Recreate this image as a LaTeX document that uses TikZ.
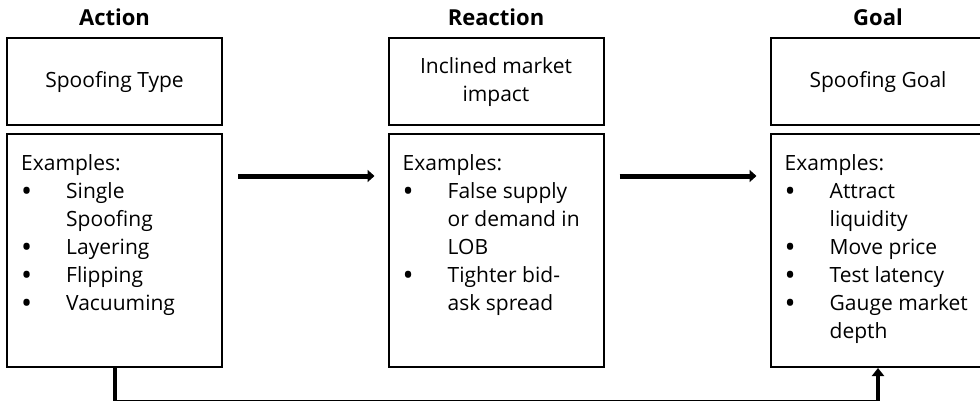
\documentclass[tikz,border=0pt]{standalone}
\usepackage{fontspec}
\setmainfont{Open Sans}
\usetikzlibrary{arrows.meta}

\tikzset{
  headbox/.style={draw, line width=2pt, minimum width=215pt, minimum height=87pt, align=center, inner sep=0pt},
  exbox/.style={draw, line width=2pt, minimum width=215pt, minimum height=233pt, inner sep=0pt},
  extext/.style={anchor=north west, align=left, inner sep=0pt},
  coltitle/.style={font=\fontsize{22}{26}\selectfont\bfseries},
  flow/.style={line width=5pt, -{Triangle[length=7pt,width=12pt]}},
  back/.style={line width=4pt, -{Triangle[length=8pt,width=12pt]}}
}
\newcommand{\bul}{\makebox[45pt][l]{\raisebox{-3pt}{\scalebox{1.4}{\textbullet}}}}
\newcommand{\cont}{\hspace*{45pt}}

\begin{document}
\begin{tikzpicture}[x=1pt, y=-1pt, font=\fontsize{21}{28}\selectfont]
    \useasboundingbox (0,0) rectangle (980,401);
    \clip (0,0) rectangle (980,401);

        % column heads and top boxes
        \foreach \x/\nm/\ttl in {114.5/act/Action, 496/react/Reaction, 878/goal/Goal}
            {
                \node[coltitle, name=\nm-title] at (\x, 17) {\ttl};
                \node[exbox, name=\nm ex] at (\x, 250.5) {};
            }
        \node[headbox] (act) at (114.5, 82) {Spoofing Type};
        \node[headbox] (react) at (496, 82) {Inclined market\\impact};
        \node[headbox] (goal) at (878, 82) {Spoofing Goal};

        % examples
        \node[extext] (actlist) at ([shift={(15,21)}]actex.north west)
            {Examples:\\ \bul Single\\ \cont Spoofing\\ \bul Layering\\ \bul Flipping\\ \bul Vacuuming};
        \node[extext] (reactlist) at ([shift={(15,21)}]reactex.north west)
            {Examples:\\ \bul False supply\\ \cont or demand in\\ \cont LOB\\ \bul Tighter bid-\\ \cont ask spread};
        \node[extext] (goallist) at ([shift={(15,21)}]goalex.north west)
            {Examples:\\ \bul Attract\\ \cont liquidity\\ \bul Move price\\ \bul Test latency\\ \bul Gauge market\\ \cont depth};

        \draw[flow] ([shift={(15,43)}]actex.north east) -- ([shift={(-13,43)}]reactex.north west);
        \draw[flow] ([shift={(15,43)}]reactex.north east) -- ([shift={(-13,43)}]goalex.north west);
        \draw[back] (actex.south) -- ++(0,34) -| (goalex.south);
    \end{tikzpicture}
\end{document}
